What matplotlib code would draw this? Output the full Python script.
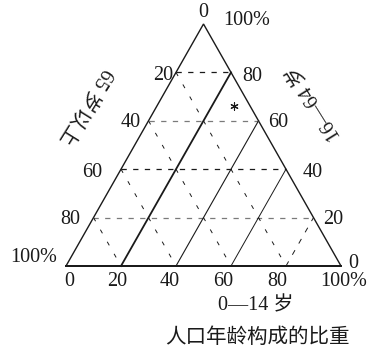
import matplotlib
matplotlib.use('Agg')
import matplotlib.pyplot as plt

plt.rcParams['font.family'] = ['Liberation Serif', 'Noto Sans CJK SC', 'DejaVu Sans']
plt.rcParams['lines.scale_dashes'] = False

# ---------------- data ----------------
grid_values = [20, 40, 60, 80]
bottom_labels = ['0', '20', '40', '60', '80', '100%']   # 0—14 岁
bottom_values = [0, 20, 40, 60, 80, 100]
left_labels = ['20', '40', '60', '80', '100%']          # 65 岁以上
left_values = [20, 40, 60, 80, 100]
right_labels = ['80', '60', '40', '20', '0']            # 16—64 岁
right_values = [80, 60, 40, 20, 0]
point_child = [28]   # 0—14 岁 (%)
point_work = [66]    # 16—64 岁 (%)
point_old = [6]      # 65 岁以上 (%)
title_bottom = '0—14 岁'
title_left = '65 岁以上'
title_right = '16—64 岁'
caption = '人口年龄构成的比重'


def tern(child, work):
    """ternary -> cartesian: bottom-left=65+, bottom-right=0-14, top=16-64"""
    return child / 100 + work / 200, work / 100


# ---------------- figure ----------------
W, H = 371, 352
fig = plt.figure(figsize=(W / 100, H / 100), dpi=100)
ax = fig.add_axes([0, 0, 1, 1])
x0, y0, tw, th = 66, 266, 275, 242   # triangle placement in pixels
ax.set_xlim(-x0 / tw, (W - x0) / tw)
ax.set_ylim((y0 - H) / th, y0 / th)
ax.axis('off')

ink = '#1a1a1a'
grey = '#7a7a7a'

# triangle
tri = [tern(0, 0), tern(100, 0), tern(0, 100), tern(0, 0)]
ax.plot([p[0] for p in tri], [p[1] for p in tri], color=ink, lw=1.0,
        solid_joinstyle='miter')
ax.plot([tern(0, 0)[0], tern(100, 0)[0]], [0, 0], color=ink, lw=1.4)

# constant 16-64 (horizontal dashed)
h_colors = {80: ink, 60: grey, 40: ink, 20: grey}
for v in grid_values:
    a, b = tern(0, v), tern(100 - v, v)
    ax.plot([a[0], b[0]], [a[1], b[1]], color=h_colors[v], lw=0.9,
            dashes=(3.8, 4.6))

# constant 65+ (parallel to right edge, dashed)
for v in grid_values:
    a, b = tern(0, 100 - v), tern(100 - v, 0)
    ax.plot([a[0], b[0]], [a[1], b[1]], color=ink, lw=0.7,
            dashes=(3.0, 7.0))

# constant 0-14 (parallel to left edge)
c_styles = {20: dict(lw=1.3), 40: dict(lw=0.8), 60: dict(lw=0.7),
            80: dict(lw=0.7, dashes=(3.8, 5.5))}
for v in grid_values:
    a, b = tern(v, 0), tern(v, 100 - v)
    ax.plot([a[0], b[0]], [a[1], b[1]], color=ink, **c_styles[v])

# data point
px, py = zip(*[tern(c, w) for c, w in zip(point_child, point_work)])
ax.scatter(px, py, marker=(6, 2, 0), s=28, color=ink, linewidths=0.8)

fs = 14.5
def lab(text, xy, dx, dy, ha='center', va='center', **kw):
    ax.annotate(text, xy=xy, xytext=(dx, dy), textcoords='offset pixels',
                ha=ha, va=va, fontsize=fs, color=ink, **kw)

# bottom labels
b_dx = [3, -4, -6, -8, -9, 3]
for t, v, dx in zip(bottom_labels, bottom_values, b_dx):
    lab(t, tern(v, 0), dx, -15)

# left labels
l_dx = [-3, -8, -19, -13, -9]
l_dy = [-3, -2, -3, -2, 9]
for t, v, dx, dy in zip(left_labels, left_values, l_dx, l_dy):
    lab(t, tern(0, 100 - v), dx, dy, ha='right')

# right labels
r_dx = [11, 10, 17, 10, 7]
r_dy = [-4, -2, -3, -2, 3]
for t, v, dx, dy in zip(right_labels, right_values, r_dx, r_dy):
    lab(t, tern(100 - v, v), dx, dy, ha='left')

# top labels
top = tern(0, 100)
lab('0', top, 0, 11)
lab('100%', top, 20, 3, ha='left')

# axis titles
lab(title_bottom, tern(100, 0), -85, -40)
ax.annotate(caption, xy=tern(100, 0), xytext=(-84, -71), textcoords='offset pixels',
            ha='center', va='center', fontsize=14.8, color=ink,
            family=['Noto Sans CJK SC'])
lab(title_left, tern(0, 100), -119, -82, rotation=238, rotation_mode='anchor')
lab(title_right, tern(0, 100), 112, -78, rotation=122, rotation_mode='anchor')

fig.savefig('out.png', dpi=100)
